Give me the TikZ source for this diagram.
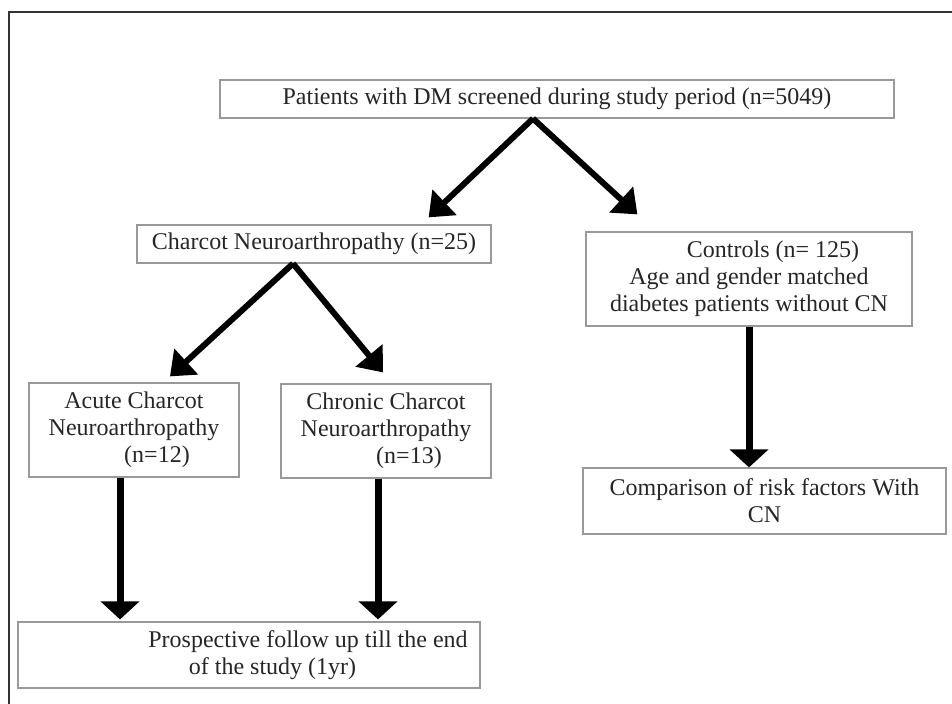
\documentclass[tikz,border=0pt]{standalone}
\usepackage{fontspec}
\setmainfont{Liberation Serif}
\usetikzlibrary{arrows.meta,calc}

\begin{document}
\begin{tikzpicture}[x=0.5pt, y=-0.5pt,
    flowbox/.style={draw=gray!80, line width=0.6pt, align=center, text=black!85,
        font=\fontsize{12}{13.5}\selectfont, inner sep=2pt},
    slantarrow/.style={line width=3pt, -{Triangle[width=17pt,length=11pt]}},
    downarrow/.style={line width=3.5pt, -{Triangle[width=19pt,length=9pt]}}]
    % Fix the page size and draw the outer frame
    \useasboundingbox (0,0) rectangle (952,704);
    \draw[black!80, line width=1pt] (9,704) -- (9,12) -- (952,12);

    % Boxes of the flow chart
    \node[flowbox, minimum width=337pt, minimum height=19pt] (screen) at (557,99)
        {Patients with DM screened during study period (n=5049)};
    \node[flowbox, minimum width=177pt, minimum height=19pt] (charcot) at (314,244)
        {Charcot Neuroarthropathy (n=25)};
    \node[flowbox, minimum width=163pt, minimum height=47pt] (controls) at (749,279)
        {\hspace*{24pt}Controls (n= 125)\\ Age and gender matched\\ diabetes patients without CN};
    \node[flowbox, minimum width=105pt, minimum height=47pt] (acute) at (134,430)
        {Acute Charcot\\ Neuroarthropathy\\ \hspace*{23pt}(n=12)};
    \node[flowbox, minimum width=105pt, minimum height=47pt] (chronic) at (386,431)
        {Chronic Charcot\\ Neuroarthropathy\\ \hspace*{23pt}(n=13)};
    \node[flowbox, minimum width=231pt, minimum height=33pt] (followup) at (249,655)
        {\hspace*{59pt}Prospective follow up till the end\\ \hspace*{23.5pt}of the study (1yr)};
    \node[flowbox, minimum width=181.5pt, minimum height=33pt] (compare) at (764.5,501)
        {Comparison of risk factors With\\ CN};

    % Arrows splitting from the top boxes
    \draw[slantarrow] ($(screen.south)+(-24,0)$) -- ($(charcot.north east)+(-63,-7)$);
    \draw[slantarrow] ($(screen.south)+(-24,0)$) -- ($(controls.north west)+(52,-17)$);
    \draw[slantarrow] ($(charcot.south)+(-21,0)$) -- ($(acute.north)+(36,-6)$);
    \draw[slantarrow] ($(charcot.south)+(-21,0)$) -- ($(chronic.north)+(-3,-11)$);

    % Straight arrows going down
    \draw[downarrow] ($(acute.south)+(-14,0)$) -- ($(followup.north)+(-129,-2)$);
    \draw[downarrow] ($(chronic.south)+(-8,0)$) -- ($(followup.north)+(129,-2)$);
    \draw[downarrow] (controls.south) -- ($(compare.north)+(-15.5,0)$);
\end{tikzpicture}
\end{document}
